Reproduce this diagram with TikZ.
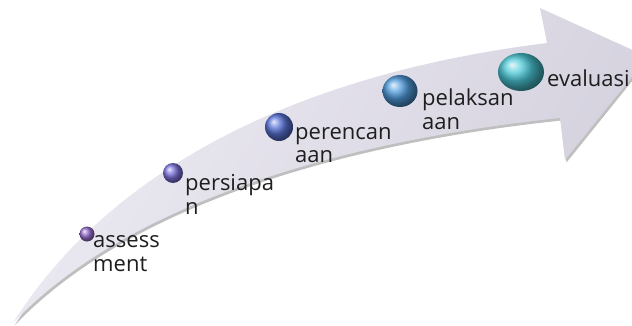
\documentclass[tikz,border=0pt]{standalone}
\usepackage{fontspec}
\setmainfont{Open Sans}
\usetikzlibrary{shapes.geometric}
\definecolor{arrowfill}{RGB}{212,209,222}
\definecolor{arrowlight}{RGB}{236,234,242}
\definecolor{txt}{RGB}{30,30,30}
\definecolor{c1}{RGB}{150,110,205}
\definecolor{c2}{RGB}{125,115,220}
\definecolor{c3}{RGB}{90,115,215}
\definecolor{c4}{RGB}{80,155,220}
\definecolor{c5}{RGB}{75,200,215}
\begin{document}
\begin{tikzpicture}[x=1pt,y=-1pt,
  lbl/.style={anchor=base west, inner sep=0pt, font=\fontsize{22}{24}\selectfont, align=left, text=txt},
  bead/.style={shading=ball, ball color=#1}]
\useasboundingbox (0,0) rectangle (632,326);
% shadow
\fill[black, opacity=0.25, shift={(1.5,2.5)}]
  (13,323) .. controls (90,200) and (250,80) .. (547,43)
  -- (540,8) -- (648,57) -- (565,160) -- (560,118)
  .. controls (350,140) and (130,200) .. (13,323) -- cycle;
% arrow body
\path[left color=arrowlight, right color=arrowfill, shading angle=60]
  (13,323) .. controls (90,200) and (250,80) .. (547,43)
  -- (540,8) -- (648,57) -- (565,160) -- (560,118)
  .. controls (350,140) and (130,200) .. (13,323) -- cycle;
% beads
\node[bead=c1, circle, minimum size=15pt, inner sep=0pt] (b1) at (87,234) {};
\node[bead=c2, circle, minimum size=20pt, inner sep=0pt] (b2) at (173,173) {};
\node[bead=c3, circle, minimum size=28pt, inner sep=0pt] (b3) at (279,127) {};
\node[bead=c4, ellipse, minimum width=35pt, minimum height=32pt, inner sep=0pt] (b4) at (400,91) {};
\node[bead=c5, ellipse, minimum width=46pt, minimum height=38pt, inner sep=0pt] (b5) at (521,72) {};
% labels (anchor = baseline of the last line)
\node[lbl] (t1) at (93,271) {assess\\ment};
\node[lbl] (t2) at (185,214) {persiapa\\n};
\node[lbl] (t3) at (295,163) {perencan\\aan};
\node[lbl] (t4) at (422,130) {pelaksan\\aan};
\node[lbl] (t5) at (547,87) {evaluasi};
\end{tikzpicture}
\end{document}
